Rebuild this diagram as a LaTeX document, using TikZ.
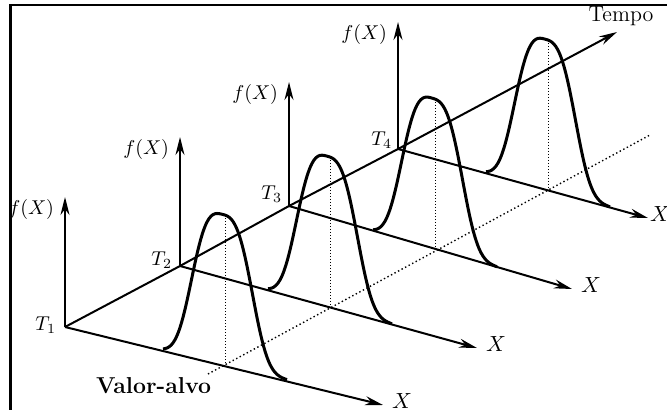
\documentclass[tikz,border=0pt]{standalone}
\usepackage{amsmath,amssymb}
\usepackage{tikz}
\usetikzlibrary{arrows.meta,positioning}

\begin{document}
\begin{tikzpicture}[x=0.5pt,y=-0.5pt,>={Stealth[length=9pt,width=4.5pt]},line width=1pt]
  \useasboundingbox (0,0) rectangle (667,410);
  \draw[line width=1.2pt] (10.5,410) -- (10.5,5) -- (667,5);
  \coordinate (T1) at (65,327);
  \coordinate (T2) at (180,266);
  \coordinate (T3) at (289,206);
  \coordinate (T4) at (398,149);
  \coordinate (TT) at (617,32);
  \coordinate (F1) at (65,197);
  \coordinate (F2) at (180,137);
  \coordinate (F3) at (289,82);
  \coordinate (F4) at (398,22);
  \coordinate (X1) at (383,405);
  \coordinate (X2) at (477,348);
  \coordinate (X3) at (572,289);
  \coordinate (X4) at (648,218);
  \coordinate (P1) at (225,365);
  \coordinate (P2) at (330,307);
  \coordinate (P3) at (435,249);
  \coordinate (P4) at (548,190);
  \coordinate (M1) at (225,215);
  \coordinate (M2) at (330,157);
  \coordinate (M3) at (435,99);
  \coordinate (M4) at (548,40);
  \coordinate (V0) at (208,374);
  \coordinate (V1) at (650,135);
  \draw[->] (T1) -- (T2) -- (T3) -- (T4) -- (TT);
  \draw[->] (T1) -- (F1);
  \draw[->] (T2) -- (F2);
  \draw[->] (T3) -- (F3);
  \draw[->] (T4) -- (F4);
  \draw[->] (T1) -- (X1);
  \draw[->] (T2) -- (X2);
  \draw[->] (T3) -- (X3);
  \draw[->] (T4) -- (X4);
  \draw[line width=0.7pt,dash pattern=on 0.7pt off 1.3pt] (V0) -- (V1);
  \draw[line width=0.5pt,dash pattern=on 0.5pt off 1pt] (M1) -- (P1);
  \draw[line width=0.5pt,dash pattern=on 0.5pt off 1pt] (M2) -- (P2);
  \draw[line width=0.5pt,dash pattern=on 0.5pt off 1pt] (M3) -- (P3);
  \draw[line width=0.5pt,dash pattern=on 0.5pt off 1pt] (M4) -- (P4);
  \draw[line width=1.5pt] plot[domain=-62:62,samples=63,smooth] ({225+\x},{365+0.24*\x-150*exp(-pow(abs(\x+3)/35,3))});
  \draw[line width=1.5pt] plot[domain=-62:62,samples=63,smooth] ({330+\x},{307+0.275*\x-150*exp(-pow(abs(\x+3)/35,3))});
  \draw[line width=1.5pt] plot[domain=-62:62,samples=63,smooth] ({435+\x},{249+0.29*\x-150*exp(-pow(abs(\x+3)/35,3))});
  \draw[line width=1.5pt] plot[domain=-62:62,samples=63,smooth] ({548+\x},{190+0.275*\x-150*exp(-pow(abs(\x+3)/35,3))});
  \node[below left=1pt and 5pt of F1,inner sep=0] (f1) {$f(X)$};
  \node[below left=1pt and 5pt of F2,inner sep=0] (f2) {$f(X)$};
  \node[below left=1pt and 5pt of F3,inner sep=0] (f3) {$f(X)$};
  \node[below left=1pt and 5pt of F4,inner sep=0] (f4) {$f(X)$};
  \node[left=4pt of T1,yshift=1pt,inner sep=0] (t1) {$T_1$};
  \node[left=3.5pt of T2,yshift=3pt,inner sep=0] (t2) {$T_2$};
  \node[left=3pt of T3,yshift=6pt,inner sep=0] (t3) {$T_3$};
  \node[left=2.5pt of T4,yshift=4.5pt,inner sep=0] (t4) {$T_4$};
  \node[right=4pt of X1,yshift=2pt,inner sep=0,font=\fontsize{11}{13}\selectfont] (x1) {$X$};
  \node[right=4pt of X2,yshift=2pt,inner sep=0,font=\fontsize{11}{13}\selectfont] (x2) {$X$};
  \node[right=4pt of X3,yshift=2pt,inner sep=0,font=\fontsize{11}{13}\selectfont] (x3) {$X$};
  \node[right=0.5pt of X4,yshift=2pt,inner sep=0,font=\fontsize{11}{13}\selectfont] (x4) {$X$};
  \node[above=2.5pt of TT,xshift=2pt,inner sep=0,font=\fontsize{11}{13}\selectfont] (tempo) {Tempo};
  \node[anchor=north east,inner sep=0,font=\fontsize{11.5}{14}\selectfont\bfseries] (alvo) at (212,377) {Valor-alvo};
\end{tikzpicture}
\end{document}
